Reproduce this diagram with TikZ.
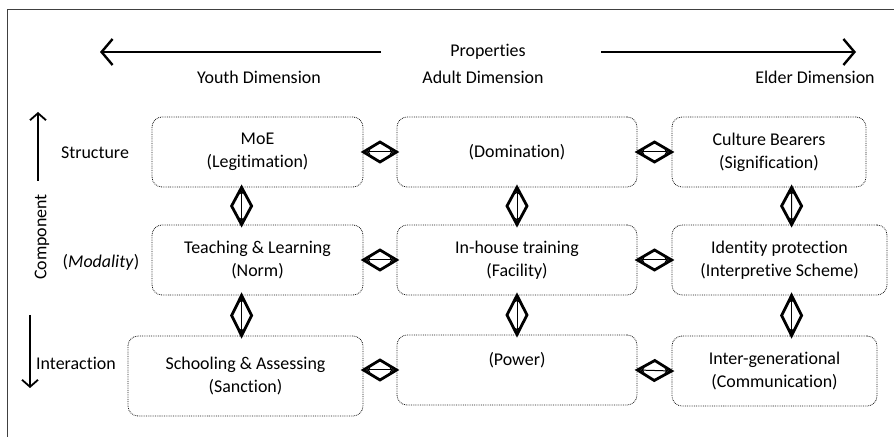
\documentclass[tikz,border=0pt]{standalone}
\usepackage{fontspec}
\setmainfont{Carlito}[Ligatures={NoCommon,NoContextual}]
\usetikzlibrary{arrows.meta,calc}
\newcommand\linkit[2]{\draw[dia] #1 to #2; \draw[inarr] #1 -- #2;}
\begin{document}
\begin{tikzpicture}[x=1bp,y=-1bp,
  txt/.style={font=\fontsize{18}{23}\selectfont, inner sep=0pt, align=center},
  box/.style={txt, draw=black!90, densely dotted, line width=0.8bp, rounded corners=10bp},
  dia/.style={line width=2.8bp, line join=miter, to path={
      ($(\tikztostart)!0.5!(\tikztotarget)$) coordinate (dm)
      (\tikztostart) -- ($(dm)!10bp!90:(\tikztotarget)$) -- (\tikztotarget)
      -- ($(dm)!10bp!-90:(\tikztotarget)$) -- cycle}},
  inarr/.style={line width=1bp, {Stealth[length=4bp,width=5bp]}-{Stealth[length=4bp,width=5bp]}, shorten >=3bp, shorten <=3bp},
  bigarr/.style={line width=2.4bp, -{Straight Barb[length=11bp,width=26bp,line width=2.4bp]}},
  sidearr/.style={line width=1.8bp, -{Straight Barb[length=7bp,width=16bp,line width=1.8bp]}}]
\useasboundingbox (0,0) rectangle (894,437);
% frame
\coordinate (fTR) at (894,10);
\coordinate (fTL) at (7,10);
\coordinate (fBL) at (7,437);
\draw[line width=1bp, black!75] (fTR) -- (fTL) -- (fBL);
% top labels
\node[txt] (prop) at (488,52) {Properties};
\node[txt] (adult) at (483,77) {Adult Dimension};
\node[txt] (youth) at (259,77) {Youth Dimension};
\node[txt] (elder) at (815,77) {Elder Dimension};
\coordinate (la0) at (381,52);
\coordinate (la1) at (100,52);
\coordinate (ra0) at (601,52);
\coordinate (ra1) at (856,52);
\draw[bigarr] (la0) -- (la1);
\draw[bigarr] (ra0) -- (ra1);
% left labels
\node[txt] (struct) at (95,153) {Structure};
\node[txt, rotate=90] (comp) at (42,237) {Component};
\node[txt] (moda) at (101,262) {(\textit{Modality})};
\node[txt] (inter) at (76,363) {Interaction};
\coordinate (ua0) at (38,181);
\coordinate (ua1) at (38,112);
\coordinate (da0) at (30,315);
\coordinate (da1) at (30,388);
\draw[sidearr] (ua0) -- (ua1);
\draw[sidearr] (da0) -- (da1);
% boxes
\node[box, minimum width=211bp, minimum height=70bp] (A) at (257.5,152) {MoE\\(Legitimation)};
\node[box, minimum width=240bp, minimum height=70bp] (B) at (517,152) {(Domination)};
\node[box, minimum width=194bp, minimum height=70bp] (C) at (769,152) {Culture Bearers\\(Signification)};
\node[box, minimum width=211bp, minimum height=70bp] (D) at (257.5,260) {Teaching \& Learning\\(Norm)};
\node[box, minimum width=240bp, minimum height=70bp] (E) at (517,260) {In-house training\\(Facility)};
\node[box, minimum width=215bp, minimum height=70bp] (F) at (779.5,260) {Identity protection\\(Interpretive Scheme)};
\node[box, minimum width=235bp, minimum height=80bp] (G) at (245.5,376) {Schooling \& Assessing\\(Sanction)};
\node[box, minimum width=240bp, minimum height=70bp] (H) at (517,370) {(Power)\\\mbox{}};
\node[box, minimum width=205bp, minimum height=70bp] (I) at (774.5,371) {Inter-generational\\(Communication)};
% vertical connectors
\linkit{([xshift=90bp]A.south west)}{([xshift=90bp]D.north west)}
\linkit{([xshift=90bp]D.south west)}{([xshift=90bp]D.south west |- G.north)}
\linkit{(B.south)}{(E.north)}
\linkit{(E.south)}{(H.north)}
\linkit{([xshift=120bp]C.south west)}{([xshift=120bp]F.north west)}
\linkit{([xshift=120bp]F.south west)}{([xshift=120bp]F.south west |- I.north)}
% horizontal connectors
\linkit{(A.east)}{(B.west)}
\linkit{(B.east)}{(C.west)}
\linkit{(D.east)}{(E.west)}
\linkit{(E.east)}{(F.west)}
\linkit{(G.east |- H.west)}{(H.west)}
\linkit{(H.east)}{(I.west)}
\end{tikzpicture}
\end{document}
